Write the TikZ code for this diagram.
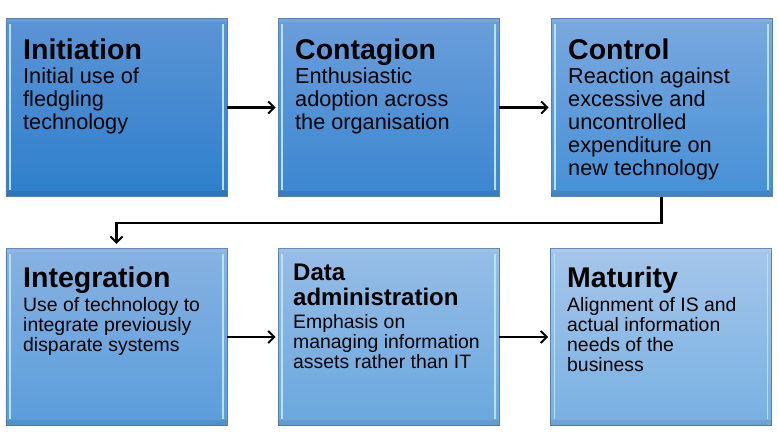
\documentclass[tikz,border=0pt]{standalone}
\usepackage{fontspec}
\setmainfont{Liberation Sans}
\usetikzlibrary{arrows.meta}
\definecolor{bordc}{HTML}{5A80B0}
\definecolor{hlc}{HTML}{B4E4FA}
\definecolor{aT}{HTML}{5C94D6}\definecolor{aM}{HTML}{2486DA}\definecolor{aB}{HTML}{2E7FCB}
\definecolor{bT}{HTML}{6B9EDB}\definecolor{bM}{HTML}{3A8FDB}\definecolor{bB}{HTML}{3B86D0}
\definecolor{cT}{HTML}{79A8DF}\definecolor{cM}{HTML}{4B97DC}\definecolor{cB}{HTML}{4690D6}
\definecolor{dT}{HTML}{88B2E2}\definecolor{dM}{HTML}{5DA2DE}\definecolor{dB}{HTML}{5A9DDB}
\definecolor{eT}{HTML}{97BDE6}\definecolor{eM}{HTML}{72AEE2}\definecolor{eB}{HTML}{6AA7DD}
\definecolor{fT}{HTML}{A5C6EA}\definecolor{fM}{HTML}{82B7E6}\definecolor{fB}{HTML}{78B0E2}
\tikzset{
  stage/.style={rectangle, draw=bordc, line width=0.8bp, minimum width=221bp, minimum height=177.5bp, inner sep=0pt},
  hl/.style={draw=hlc, line width=1.6bp},
  ttl/.style={anchor=base west, inner sep=0pt, font=\fontsize{28.5bp}{30bp}\selectfont\bfseries},
  ttlsmall/.style={anchor=base west, inner sep=0pt, font=\fontsize{24bp}{25bp}\selectfont\bfseries},
  bodyA/.style={anchor=north west, inner sep=0pt, align=left, font=\fontsize{21.7bp}{23bp}\selectfont},
  bodyB/.style={anchor=north west, inner sep=0pt, align=left, font=\fontsize{19.4bp}{20bp}\selectfont},
  flow/.style={line width=2.2bp, shorten >=2bp, -{Straight Barb[length=6bp,width=12bp,line width=2bp]}}
}
\newcommand{\stagebevel}[1]{%
  \fill[black,opacity=0.07] ([xshift=0.4bp,yshift=0.4bp]#1.south west) rectangle ([xshift=-0.4bp,yshift=6bp]#1.south east);
  \fill[white,opacity=0.08] ([xshift=0.4bp,yshift=-0.4bp]#1.north west) rectangle ([xshift=-0.4bp,yshift=-4bp]#1.north east);
  \draw[hl] ([xshift=4.5bp,yshift=-6bp]#1.north west) -- ([xshift=4.5bp,yshift=7bp]#1.south west);
  \draw[hl] ([xshift=-4.5bp,yshift=-6bp]#1.north east) -- ([xshift=-4.5bp,yshift=7bp]#1.south east);
}
\begin{document}
\begin{tikzpicture}[x=1bp,y=-1bp]
\useasboundingbox (0,0) rectangle (778,433);
% boxes
\node[stage, top color=aT, middle color=aM, bottom color=aB] (b1) at (116.5,107.5) {};
\node[stage, top color=bT, middle color=bM, bottom color=bB] (b2) at (388.5,107.5) {};
\node[stage, top color=cT, middle color=cM, bottom color=cB] (b3) at (661.5,107.5) {};
\node[stage, top color=dT, middle color=dM, bottom color=dB] (b4) at (116.5,337) {};
\node[stage, top color=eT, middle color=eM, bottom color=eB] (b5) at (388.5,337) {};
\node[stage, top color=fT, middle color=fM, bottom color=fB] (b6) at (661,337) {};
\stagebevel{b1}\stagebevel{b2}\stagebevel{b3}\stagebevel{b4}\stagebevel{b5}\stagebevel{b6}
% texts row 1
\node[ttl] (t1) at (23,60) {Initiation};
\node[bodyA] (d1) at (23,68) {Initial use of\\fledgling\\technology};
\node[ttl] (t2) at (295,59.5) {Contagion};
\node[bodyA] (d2) at (295,67.5) {Enthusiastic\\adoption across\\the organisation};
\node[ttl] (t3) at (568,60) {Control};
\node[bodyA] (d3) at (568,68) {Reaction against\\excessive and\\uncontrolled\\expenditure on\\new technology};
% texts row 2
\node[ttl] (t4) at (23,288) {Integration};
\node[bodyB] (d4) at (23,297) {Use of technology to\\integrate previously\\disparate systems};
\node[ttlsmall] (t5a) at (293,281) {Data};
\node[ttlsmall] (t5b) at (293,306) {administration};
\node[bodyB] (d5) at (293,313.8) {Emphasis on\\managing information\\assets rather than IT};
\node[ttl] (t6) at (567,288) {Maturity};
\node[bodyB] (d6) at (567,297) {Alignment of IS and\\actual information\\needs of the\\business};
% connectors
\draw[flow] (b1) -- (b2);
\draw[flow] (b2) -- (b3);
\draw[flow] (b4) -- (b5);
\draw[flow] (b5) -- (b6);
\draw[flow, shorten >=4bp] (b3.south) -- ([yshift=-26bp]b3.south) -| (b4.north);
\end{tikzpicture}
\end{document}
